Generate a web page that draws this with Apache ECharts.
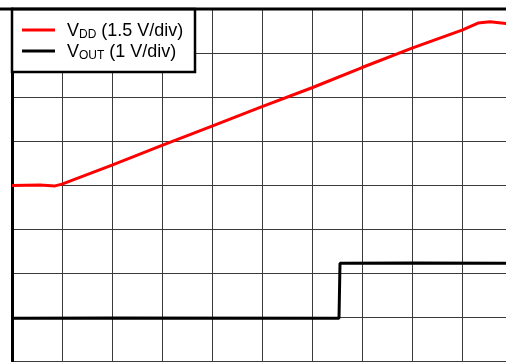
<!DOCTYPE html>
<html>
<head>
<meta charset="utf-8">
<script src="https://cdn.jsdelivr.net/npm/echarts@6/dist/echarts.min.js"></script>
<style>
  html, body { margin: 0; padding: 0; background: #fff; }
  #chart { width: 506px; height: 362px; }
</style>
</head>
<body>
<div id="chart"></div>
<script>
// Time axis in divisions (10 across), voltage axis in divisions (8 up)
const vddTrace = [
  [0.00, 3.99], [0.56, 4.00], [0.86, 3.98], [1.00, 4.02], [2.00, 4.45],
  [3.00, 4.90], [4.00, 5.34], [5.00, 5.78], [6.00, 6.21], [7.00, 6.67],
  [8.00, 7.11], [9.00, 7.52], [9.32, 7.68], [9.56, 7.71], [9.88, 7.67], [10.0, 7.66]
];
const voutTrace = [
  [0.00, 0.97], [2.00, 0.98], [6.54, 0.97], [6.56, 2.22], [8.00, 2.23], [10.0, 2.22]
];
const seriesNames = ['VDD (1.5 V/div)', 'VOUT (1 V/div)'];
const seriesColors = ['#ff0000', '#000000'];
// legend label pieces: main letter, subscript, scale note
const legendParts = [
  ['V', 'DD', ' (1.5 V/div)'],
  ['V', 'OUT', ' (1 V/div)']
];

const chart = echarts.init(document.getElementById('chart'), null, { renderer: 'canvas' });

const FONT = 'Liberation Sans, Arial, sans-serif';
const gridStyle = { show: true, lineStyle: { color: '#3a3a3a', width: 1 } };

// boxed key in the top-left corner, one row per trace
const keyRows = legendParts.map((p, i) => {
  const cy = 30 + i * 21;
  return [
    { type: 'line', z: 110, shape: { x1: 22, y1: cy, x2: 55, y2: cy },
      style: { stroke: seriesColors[i], lineWidth: 3 } },
    { type: 'text', z: 110, x: 67, y: cy + 1,
      style: {
        text: '{m|' + p[0] + '}{s|' + p[1] + '}{m|' + p[2] + '}',
        verticalAlign: 'middle', align: 'left',
        rich: {
          m: { fontSize: 18, lineHeight: 22, fill: '#000', fontFamily: FONT },
          s: { fontSize: 12, fill: '#000', padding: [8, 0, 0, 0], fontFamily: FONT }
        }
      } }
  ];
}).flat();

chart.setOption({
  animation: false,
  backgroundColor: '#fff',
  textStyle: { fontFamily: FONT },
  grid: { left: 12, top: 9, width: 500, height: 352, containLabel: false, outerBoundsMode: 'none' },
  xAxis: {
    type: 'value', min: 0, max: 10, interval: 1,
    axisLine: { show: false }, axisTick: { show: false }, axisLabel: { show: false },
    splitLine: gridStyle
  },
  yAxis: {
    type: 'value', min: 0, max: 8, interval: 1,
    axisLine: { show: true, lineStyle: { color: '#000', width: 3 } },
    axisTick: { show: false }, axisLabel: { show: false },
    splitLine: gridStyle
  },
  legend: { show: false },
  graphic: [
    { type: 'rect', z: 105, shape: { x: 12, y: 9, width: 183, height: 63 },
      style: { fill: '#fff', stroke: '#000', lineWidth: 2.5 } },
    ...keyRows,
    { type: 'line', z: 120, shape: { x1: 0, y1: 9, x2: 506, y2: 9 }, style: { stroke: '#000', lineWidth: 3 } }
  ],
  series: [
    {
      name: seriesNames[0], type: 'line', data: vddTrace, symbol: 'none',
      lineStyle: { color: seriesColors[0], width: 3 }, z: 3
    },
    {
      name: seriesNames[1], type: 'line', data: voutTrace, symbol: 'none',
      lineStyle: { color: seriesColors[1], width: 3 }, z: 2
    }
  ]
});
</script>
</body>
</html>
